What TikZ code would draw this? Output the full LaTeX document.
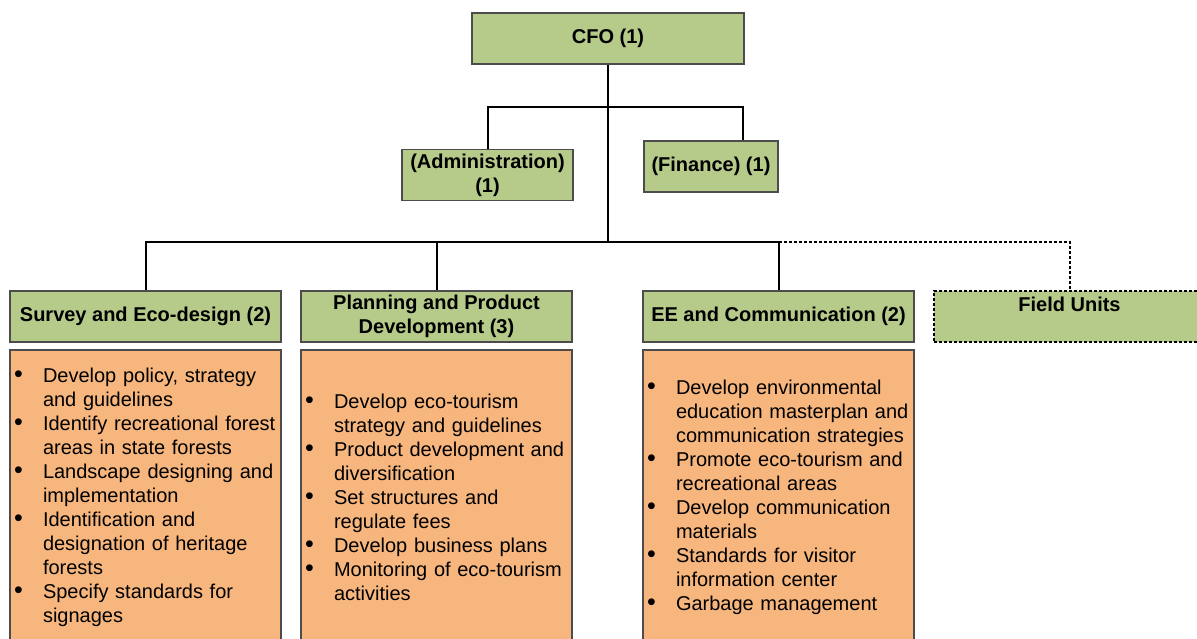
\documentclass[tikz,border=0pt]{standalone}
\usepackage{fontspec}
\setmainfont{Liberation Sans}
\definecolor{boxgreen}{RGB}{182,203,138}
\definecolor{boxorange}{RGB}{247,182,126}
\newcommand{\bl}{\makebox[21.75pt][l]{\raisebox{-0.5pt}{\scalebox{1.25}{\textbullet}}}}
\newcommand{\ind}{\hspace*{21.75pt}}

\begin{document}
\begin{tikzpicture}[x=0.75pt, y=-0.75pt,
	unitbox/.style={draw=black!70, line width=0.9pt, fill=boxgreen, font=\fontsize{15}{18}\selectfont\bfseries, align=center, minimum height=38.25pt, inner sep=2pt},
	taskbox/.style={draw=black!70, line width=0.9pt, fill=boxorange, font=\fontsize{15}{18}\selectfont, align=left, text width=197.25pt, inner xsep=3pt, minimum height=220.5pt},
	link/.style={line width=1.5pt},
	fieldlink/.style={line width=1.5pt, dash pattern=on 2.25pt off 1.5pt}]
		\useasboundingbox (0,0) rectangle (1197,639);
		
		\node[unitbox, minimum width=204pt] (cfo) at (608,38.5) {CFO (1)};
		\node[unitbox, minimum width=128.25pt] (admin) at (487.5,175) {(Administration)\\(1)};
		\node[unitbox, minimum width=100.5pt] (fin) at (711,166.5) {(Finance) (1)};
		
		\node[unitbox, minimum width=203.25pt] (sur) at (145.5,316.5) {Survey and Eco-design (2)};
		\node[unitbox, minimum width=203.25pt] (plan) at (436.5,316.5) {Planning and Product\\Development (3)};
		\node[unitbox, minimum width=203.25pt] (ee) at (778.5,316.5) {EE and Communication (2)};
		\node[unitbox, minimum width=203.25pt, draw=black, line width=1.2pt, dash pattern=on 2.25pt off 1.5pt] (field) at (1069.5,316.5) {Field Units\\\phantom{U}};
		
		\node[taskbox] (surtasks) at (145.5,497) {\bl Develop policy, strategy\\ \ind and guidelines\\ \bl Identify recreational forest\\ \ind areas in state forests\\ \bl Landscape designing and\\ \ind implementation\\ \bl Identification and\\ \ind designation of heritage\\ \ind forests\\ \bl Specify standards for\\ \ind signages};
		\node[taskbox] (plantasks) at (436.5,497) {\bl Develop eco-tourism\\ \ind strategy and guidelines\\ \bl Product development and\\ \ind diversification\\ \bl Set structures and\\ \ind regulate fees\\ \bl Develop business plans\\ \bl Monitoring of eco-tourism\\ \ind activities};
		\node[taskbox] (eetasks) at (778.5,497) {\bl Develop environmental\\ \ind education masterplan and\\ \ind communication strategies\\ \bl Promote eco-tourism and\\ \ind recreational areas\\ \bl Develop communication\\ \ind materials\\ \bl Standards for visitor\\ \ind information center\\ \bl Garbage management};
		
		\coordinate (top) at (608,107);
		\coordinate (mid) at (608,242);
		
		\draw[link] (cfo.south) -- (mid);
		\draw[link] (admin.north) |- (top) -| ([xshift=24pt]fin.north);
		\draw[link] (sur.north) |- (mid) -| (ee.north);
		\draw[link] (plan.north) -- (plan.north |- mid);
		\draw[fieldlink] (ee.north |- mid) -| (field.north);
		
	\end{tikzpicture}
\end{document}
